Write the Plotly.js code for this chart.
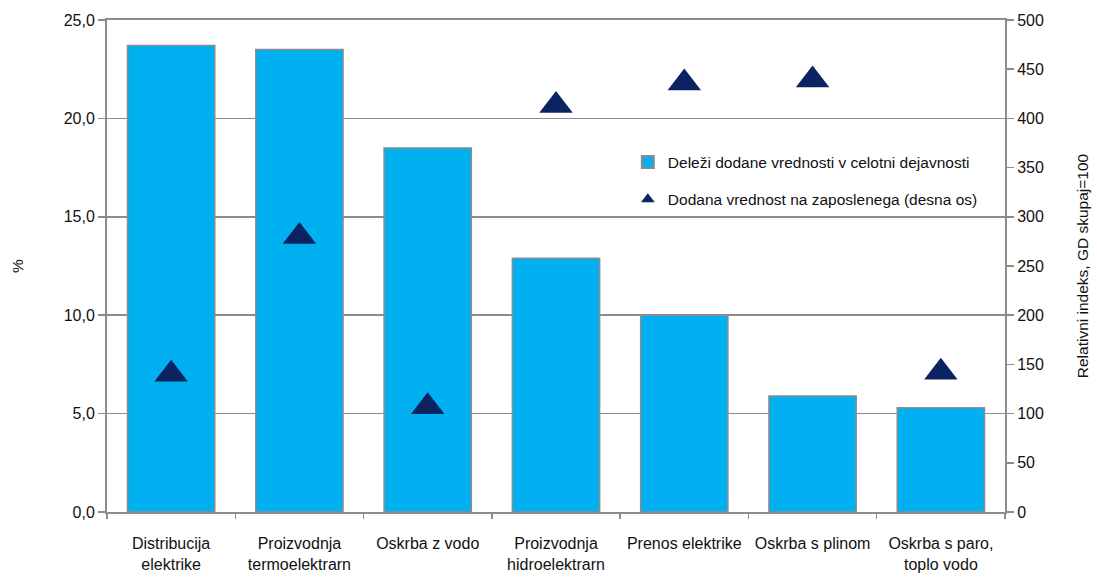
<!DOCTYPE html>
<html><head><meta charset="utf-8">
<script src="https://cdn.plot.ly/plotly-3.0.1.min.js"></script>
<style>html,body{margin:0;padding:0;background:#fff}#chart{width:1097px;height:578px}</style>
</head><body><div id="chart"></div>
<script>
const categories = ["Distribucija<br>elektrike","Proizvodnja<br>termoelektrarn","Oskrba z vodo","Proizvodnja<br>hidroelektrarn","Prenos elektrike","Oskrba s plinom","Oskrba s paro,<br>toplo vodo"];
const shareValues = [23.7, 23.5, 18.5, 12.9, 10.0, 5.9, 5.3];
const indexValues = [140, 280, 107, 413, 436, 439, 142];
const leftTicks = [0,5,10,15,20,25];
const leftTickLabels = ["0,0","5,0","10,0","15,0","20,0","25,0"];
const rightTicks = [0,50,100,150,200,250,300,350,400,450,500];

const font = {family:"Liberation Sans, Arial, sans-serif", size:16, color:"#111"};
const lfont = {family:"Liberation Sans, Arial, sans-serif", size:15.5, color:"#111"};
const data = [
 {type:"bar", x:categories, y:shareValues, name:"Deleži dodane vrednosti v celotni dejavnosti",
  legendgroup:"a", marker:{color:"#00b0f0", line:{color:"#8c8c8c", width:1.5}}, width:0.68, yaxis:"y"},
 {type:"scatter", mode:"markers", x:categories, y:indexValues, name:"Dodana vrednost na zaposlenega (desna os)",
  legendgroup:"b", marker:{symbol:"triangle-up", size:29, color:"#0b2461"}, yaxis:"y2"}
];
const layout = {
 width:1097, height:578, margin:{l:107, r:92, t:20, b:66},
 paper_bgcolor:"#fff", plot_bgcolor:"#fff", font:font, showlegend:true,
 xaxis:{showgrid:false, showline:true, linecolor:"#8c8c8c", linewidth:2, mirror:true,
   ticks:"outside", ticklen:5, tickcolor:"#8c8c8c", tickwidth:1.5, tickfont:font, tickson:"boundaries", ticklabelstandoff:16},
 yaxis:{range:[0,25], tickvals:leftTicks, ticktext:leftTickLabels, showgrid:true, gridcolor:"#8c8c8c", gridwidth:1.5,
   showline:true, linecolor:"#8c8c8c", linewidth:2, ticks:"outside", ticklen:7, tickcolor:"#8c8c8c", tickwidth:1.5,
   tickfont:font, zeroline:false, title:{text:"%", font:lfont, standoff:36}},
 yaxis2:{range:[0,500], overlaying:"y", side:"right", tickvals:rightTicks, showgrid:false,
   showline:true, linecolor:"#8c8c8c", linewidth:2, ticks:"outside", ticklen:7, tickcolor:"#8c8c8c", tickwidth:1.5,
   tickfont:font, zeroline:false, title:{text:"Relativni indeks, GD skupaj=100", font:lfont, standoff:34}},
 legend:{x:0.58, y:0.745, xanchor:"left", yanchor:"top", bgcolor:"rgba(0,0,0,0)", font:lfont, tracegroupgap:14, itemsizing:"constant", itemwidth:30}
};
Plotly.newPlot("chart", data, layout, {displayModeBar:false, staticPlot:true});
</script></body></html>
